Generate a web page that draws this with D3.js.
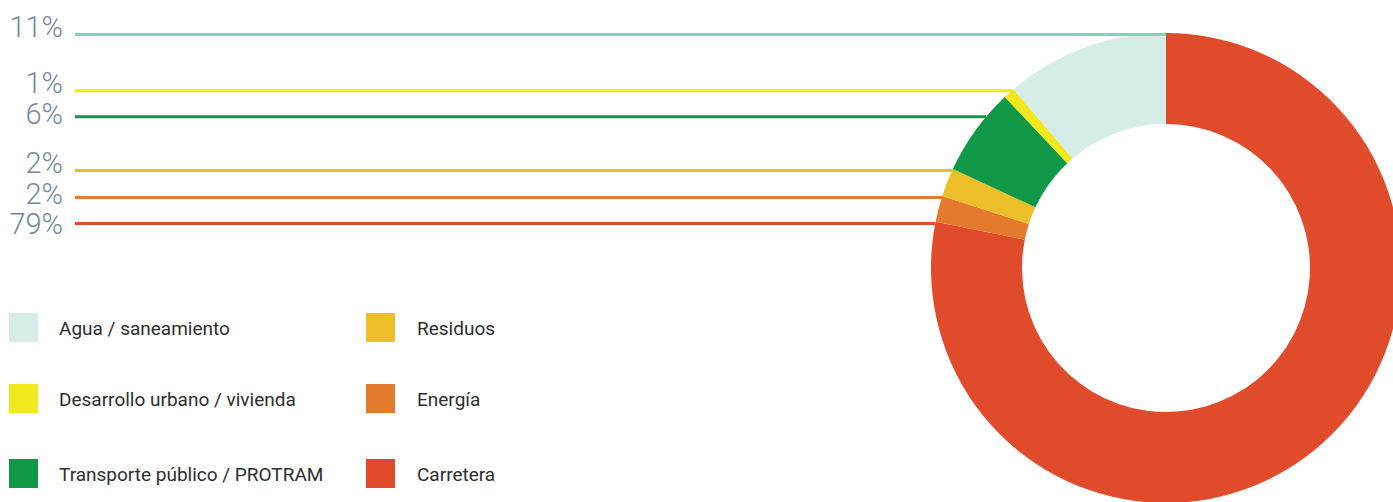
<!DOCTYPE html>
<html><head><meta charset="utf-8">
<script src="https://cdn.jsdelivr.net/npm/d3@7"></script>
<style>html,body{margin:0;padding:0;background:#fff;overflow:hidden}</style>
</head><body>
<svg id="chart" width="1393" height="502"></svg>
<script>
// Data (clockwise from 12 o'clock)
const categories = ["Carretera", "Energía", "Residuos", "Transporte público / PROTRAM", "Desarrollo urbano / vivienda", "Agua / saneamiento"];
const values = [78.15, 1.8, 1.97, 6.05, 0.78, 11.25];
const pctLabels = ["79%", "2%", "2%", "6%", "1%", "11%"];
const fillColors = ["#e04b2c", "#e37a2e", "#ecbf29", "#109748", "#f2e81e", "#d6ede7"];
const lineColors = ["#e04b2c", "#e37a2e", "#ecbf29", "#109748", "#f2e81e", "#86d0c2"];
// Legend order (column by column)
const legendOrder = [
  "Agua / saneamiento", "Desarrollo urbano / vivienda", "Transporte público / PROTRAM",
  "Residuos", "Energía", "Carretera"
];

const svg = d3.select("#chart");
const cx = 1166, cy = 268, R = 235, r0 = 144;

const pie = d3.pie().value(d => d).sort(null);
const arcs = pie(values);
const arc = d3.arc().innerRadius(r0).outerRadius(R);

const g = svg.append("g").attr("transform", `translate(${cx},${cy})`);
g.selectAll("path").data(arcs).enter().append("path")
  .attr("d", arc)
  .attr("fill", (d, i) => fillColors[i]);

// Leader lines: from each slice's clockwise end on the outer arc, horizontal to the left
const sw = 3;
let items = arcs.map((a, i) => ({
  i,
  y: cy - R * Math.cos(a.endAngle) + sw / 2,
  x: cx + R * Math.sin(a.endAngle),
  label: pctLabels[i]
}));
items.sort((a, b) => a.y - b.y);
const minGap = 26;
for (let k = 1; k < items.length; k++) {
  if (items[k].y < items[k - 1].y + minGap) {
    items[k].y = items[k - 1].y + minGap;
    const dy = cy - items[k].y;
    items[k].x = cx - Math.sqrt(Math.max(0, R * R - dy * dy));
  }
}
// label baselines with their own spacing
const labelGap = 30.5;
items.forEach((it, k) => {
  it.ly = it.y + 2.5;
  if (k > 0 && it.ly < items[k - 1].ly + labelGap) it.ly = items[k - 1].ly + labelGap;
});

const lineStartX = 75;
svg.append("g").selectAll("line").data(items).enter().append("line")
  .attr("x1", lineStartX).attr("x2", d => d.x)
  .attr("y1", d => d.y).attr("y2", d => d.y)
  .attr("stroke", d => lineColors[d.i])
  .attr("stroke-width", sw);

svg.append("g").selectAll("text").data(items).enter().append("text")
  .attr("x", 63).attr("y", d => d.ly)
  .attr("text-anchor", "end")
  .attr("font-family", "Roboto, sans-serif")
  .attr("font-weight", 300)
  .attr("font-size", 29)
  .attr("fill", "#7686a0")
  .text(d => d.label);

// Legend
const colX = [{sq: 9, tx: 59}, {sq: 366, tx: 417}];
const rowY = [313, 384, 459];
const legend = svg.append("g");
legendOrder.forEach((name, k) => {
  const i = categories.indexOf(name);
  const col = Math.floor(k / 3), row = k % 3;
  legend.append("rect")
    .attr("x", colX[col].sq).attr("y", rowY[row])
    .attr("width", 29).attr("height", 29)
    .attr("fill", fillColors[i]);
  legend.append("text")
    .attr("x", colX[col].tx).attr("y", rowY[row] + 22)
    .attr("font-family", "Roboto, sans-serif")
    .attr("font-size", 19)
    .attr("fill", "#2e2e2e")
    .text(name);
});
</script>
</body></html>
